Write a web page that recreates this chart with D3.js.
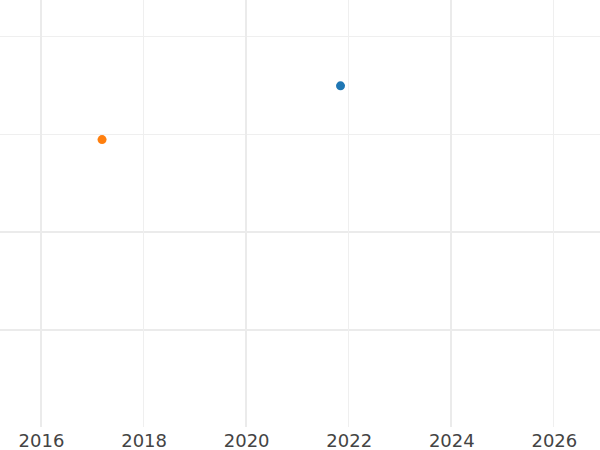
<!DOCTYPE html>
<html>
<head>
<meta charset="utf-8">
<script src="https://cdn.jsdelivr.net/npm/d3@7"></script>
<style>
html,body{margin:0;padding:0;background:#fff;}
svg{display:block;}
</style>
</head>
<body>
<svg id="chart" width="600" height="450"></svg>
<script>
// Data
const seriesNames = ["A", "B"];
const seriesX = [2021.84, 2017.19];
const seriesY = [3.5, 2.95];
const seriesColors = ["#1f77b4", "#ff7f0e"];
const xTickValues = [2016, 2018, 2020, 2022, 2024, 2026];
const xTickMajor = [true, false, true, false, true, false];
const yTickValues = [1, 2, 3, 4];
const yTickMajor = [true, true, false, false];

const W = 600, H = 450;
const plot = {left: 0, right: 600, top: 0, bottom: 427};
const svg = d3.select("#chart");

const x = d3.scaleLinear().domain([2015.2, 2026.9]).range([plot.left, plot.right]);
const y = d3.scaleLinear().domain([0, 4.378]).range([plot.bottom + 1, plot.top]);

// horizontal gridlines
svg.append("g").selectAll("line").data(yTickValues).join("line")
  .attr("x1", plot.left).attr("x2", plot.right)
  .attr("y1", d => y(d)).attr("y2", d => y(d))
  .attr("stroke", (d,i) => yTickMajor[i] ? "#ebebeb" : "#efefef")
  .attr("stroke-width", (d,i) => yTickMajor[i] ? 2 : 1)
  .attr("shape-rendering", "crispEdges");

// vertical gridlines
svg.append("g").selectAll("line").data(xTickValues).join("line")
  .attr("x1", d => x(d)).attr("x2", d => x(d))
  .attr("y1", plot.top).attr("y2", plot.bottom)
  .attr("stroke", (d,i) => xTickMajor[i] ? "#ebebeb" : "#efefef")
  .attr("stroke-width", (d,i) => xTickMajor[i] ? 2 : 1)
  .attr("shape-rendering", "crispEdges");

// x axis labels
const xAxis = d3.axisBottom(x).tickValues(xTickValues).tickFormat(d3.format("d")).tickSize(0).tickPadding(7);
const gx = svg.append("g").attr("transform", `translate(0,${plot.bottom})`).call(xAxis);
gx.select(".domain").remove();
gx.selectAll("text")
  .attr("font-family", "DejaVu Sans, sans-serif")
  .attr("font-size", 18)
  .attr("fill", "#444");

// points
svg.append("g").selectAll("circle").data(seriesX).join("circle")
  .attr("cx", d => x(d))
  .attr("cy", (d,i) => y(seriesY[i]))
  .attr("r", 4.5)
  .attr("fill", (d,i) => seriesColors[i]);
</script>
</body>
</html>
